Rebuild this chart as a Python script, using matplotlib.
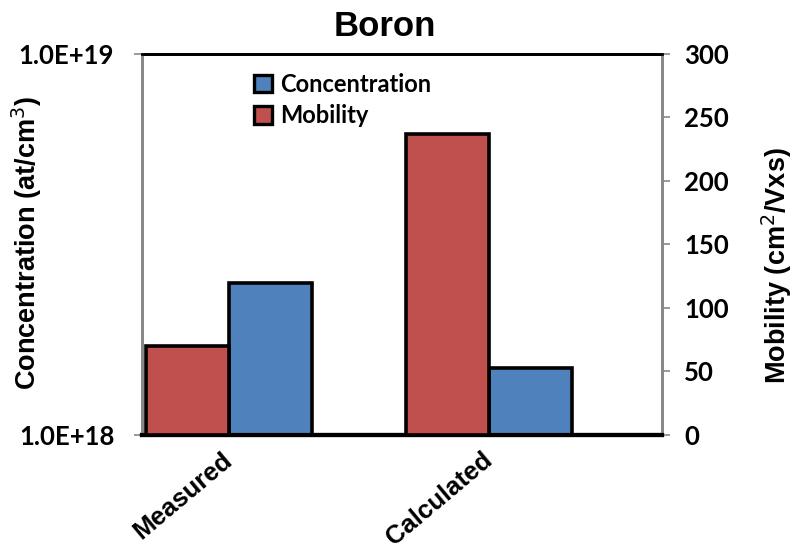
import numpy as np
import matplotlib.pyplot as plt
from matplotlib.ticker import FixedLocator, NullLocator
from matplotlib.patches import Patch
import matplotlib.transforms as mtransforms

categories = ['Measured', 'Calculated']
concentration = [2.5e18, 1.5e18]   # at/cm3, left log axis
mobility = [70, 237]               # cm2/Vxs, right axis

red = '#C0504D'
blue = '#4F81BD'
tick_font = 'Lato'
label_font = 'Liberation Sans'

fig = plt.figure(figsize=(7.95, 5.5), dpi=100)
ax = fig.add_axes([142 / 795, 115 / 550, 520 / 795, 381.5 / 550])
ax2 = ax.twinx()

x = np.arange(len(categories))
w = 0.32

ax.bar(x, np.array(concentration) - 1e18, bottom=1e18, width=w, align='edge',
       color=blue, edgecolor='black', linewidth=2.6, zorder=3)
ax.set_yscale('log')
ax.set_ylim(1e18, 1e19)
ax.yaxis.set_major_locator(FixedLocator([1e18, 1e19]))
ax.yaxis.set_minor_locator(NullLocator())
ax.set_yticklabels(['1.0E+18', '1.0E+19'])

ax2.bar(x - w, mobility, width=w, align='edge',
        color=red, edgecolor='black', linewidth=2.6, zorder=3)
ax2.set_ylim(0, 300)
ax2.set_yticks(np.arange(0, 301, 50))

ax.set_xlim(-0.335, 1.665)
ax.set_xticks(x)
ax.set_xticklabels([])
ax.tick_params(axis='x', length=0)
# category labels, shifted a bit like the original
shift = ax.get_xaxis_transform() + mtransforms.ScaledTranslation(-8 / 100, -13 / 100,
                                                                 fig.dpi_scale_trans)
for xi, name in zip(x, categories):
    ax.text(xi, 0, name, transform=shift, rotation=40, ha='right', va='top',
            rotation_mode='anchor', fontsize=18.5, fontweight='bold', family=label_font)

for a in (ax, ax2):
    a.tick_params(axis='y', direction='out', length=6, width=1.2, color='#888888',
                  labelsize=18.5)
    for lab in a.get_yticklabels():
        lab.set_fontfamily(tick_font)
        lab.set_fontweight('bold')
    a.spines['left'].set_color('#888888')
    a.spines['left'].set_linewidth(2)
    a.spines['right'].set_color('#888888')
    a.spines['right'].set_linewidth(2)
    a.spines['top'].set_color('black')
    a.spines['top'].set_linewidth(2)
    a.spines['bottom'].set_color('black')
    a.spines['bottom'].set_linewidth(3)
ax.tick_params(axis='y', pad=14)
ax2.tick_params(axis='y', pad=10)

fig.text(385 / 795, 1 - 26 / 550, 'Boron', ha='center', va='center',
         fontsize=25, fontweight='bold', family=label_font)
fig.text(27 / 795, 1 - 243 / 550, 'Concentration (at/cm$^3$)', rotation=90,
         ha='center', va='center', fontsize=19.5, fontweight='bold', family=label_font)
fig.text(777 / 795, 1 - 266 / 550, 'Mobility (cm$^2$/Vxs)', rotation=90,
         ha='center', va='center', fontsize=19.5, fontweight='bold', family=label_font)

handles = [Patch(facecolor=blue, edgecolor='black', linewidth=2.4),
           Patch(facecolor=red, edgecolor='black', linewidth=2.4)]
ax2.legend(handles, ['Concentration', 'Mobility'], loc='upper left',
           bbox_to_anchor=(0.175, 1.005), frameon=False, handlelength=0.75,
           handleheight=0.75, handletextpad=0.35, labelspacing=0.35,
           prop={'family': tick_font, 'weight': 'bold', 'size': 17})

fig.savefig('out.png', dpi=100)
